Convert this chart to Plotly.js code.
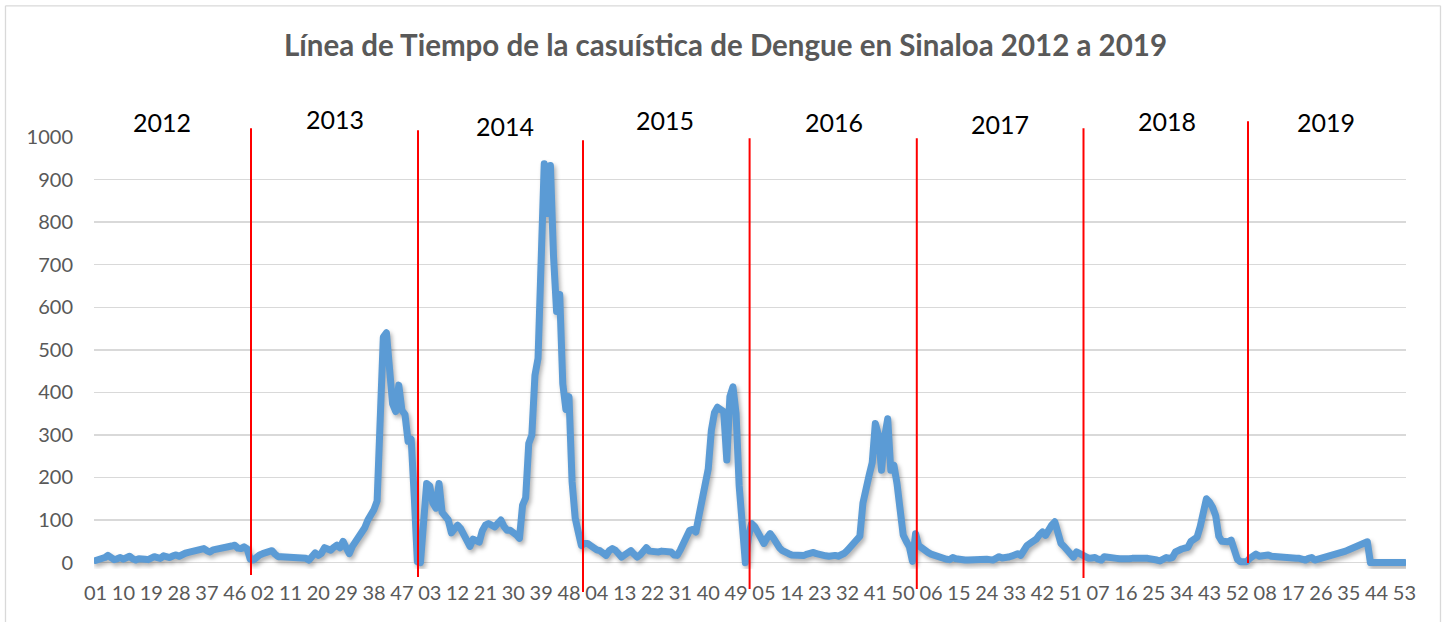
<!DOCTYPE html>
<html><head><meta charset="utf-8">
<script src="https://cdn.plot.ly/plotly-3.0.1.min.js"></script>
<style>html,body{margin:0;padding:0;background:#fff;} #chart{width:1449px;height:622px;}</style>
</head><body><div id="chart"></div>
<script>
// Weekly dengue cases, Sinaloa (53 weeks per year as plotted)
const cases2012=[5,6,8,12,17,10,7,9,12,8,
 10,15,9,6,9,10,8,7,10,14,
 12,10,16,14,12,16,18,15,20,22,
 24,26,28,27,30,33,28,25,30,31,
 33,32,35,36,39,41,34,33,37,32,
 8,6,14];
const cases2013=[18,21,24,27,28,20,14,14,14,13,
 12,11,10,12,14,10,6,18,23,17,
 22,35,32,29,36,41,35,50,35,21,
 38,50,58,68,82,100,112,125,145,380,
 530,540,470,373,355,417,358,348,285,290,
 155,2,0];
const cases2014=[110,186,180,140,128,186,118,108,100,70,
 82,88,80,68,55,38,55,52,48,75,
 88,92,86,84,92,100,85,76,76,72,
 65,57,135,152,280,300,440,480,740,937,
 820,933,720,590,630,420,360,390,190,105,
 72,40,45];
const cases2015=[45,40,33,30,28,20,17,28,33,29,
 20,13,18,25,28,20,13,18,30,35,
 27,25,26,25,27,26,29,25,18,17,
 30,48,65,76,78,72,110,150,175,220,
 310,352,365,362,355,241,390,413,350,180,
 78,0,60];
const cases2016=[92,85,70,55,45,58,68,58,45,35,
 28,22,21,18,17,15,14,17,20,22,
 24,21,18,17,16,15,17,17,15,17,
 22,29,38,45,55,62,140,185,205,235,
 327,300,217,295,338,217,229,186,131,65,
 50,37,3];
const cases2017=[68,40,33,28,24,20,17,15,12,10,
 8,7,12,9,7,6,6,6,7,8,
 9,10,9,8,7,6,10,14,11,10,
 13,15,20,21,17,30,40,45,49,55,
 65,72,64,78,88,96,68,45,38,30,
 22,13,25];
const cases2018=[20,18,12,10,11,12,8,6,14,12,
 10,10,10,9,8,7,9,10,9,9,
 10,10,10,10,8,6,4,10,12,10,
 12,25,30,32,34,36,50,58,60,85,
 125,150,142,130,110,62,50,49,49,53,
 25,8,2];
const cases2019=[1,2,10,18,20,15,17,20,18,15,
 14,12,13,14,12,10,10,10,10,8,
 6,10,12,6,8,10,11,12,13,15,
 17,21,24,27,30,33,35,38,39,44,
 49,0,0,0,0,0,0,0,0,0,
 0,0,0];

const tickLabels=["01","10","19","28","37","46","02","11","20","29","38","47",
 "03","12","21","30","39","48","04","13","22","31","40","49",
 "05","14","23","32","41","50","06","15","24","33","42","51",
 "07","16","25","34","43","52","08","17","26","35","44","53"];
const yearLabels=["2012","2013","2014","2015","2016","2017","2018","2019"];
const yTicks=[0,100,200,300,400,500,600,700,800,900,1000];

const cases=[].concat(cases2012,cases2013,cases2014,cases2015,cases2016,cases2017,cases2018,cases2019);
const weekIndex=cases.map((_,i)=>i);
const tickPositions=tickLabels.map((_,k)=>k*9);

// geometry (pixels)
const W=1449,H=622,L=94,R=1406,T=136.7,B=568.9;
const px=x=>(x-L)/(R-L), py=y=>(B-y)/(B-T);

const dividerX=[251,418,583,749.6,916.8,1083.5,1248];
const dividerTop=[128,130,140,138,138,128,121];
const dividerBottom=[575,577,592,589,589,578,563];
const yearX=[162,335,505,665,834,1000,1167,1326];
const yearY=[122,119,126,120,122,124,121,122];

const FONT="Lato, 'Open Sans', sans-serif";

const shapes=[];
dividerX.forEach((x,k)=>{
  shapes.push({type:'line',xref:'paper',yref:'paper',x0:px(x),x1:px(x),y0:py(dividerBottom[k]),y1:py(dividerTop[k]),
    line:{color:'#FF0000',width:2}});
});
// chart border
shapes.push({type:'line',xref:'paper',yref:'paper',x0:px(5.5),x1:px(5.5),y0:py(5.5),y1:py(640),line:{color:'#D9D9D9',width:1.3}});
shapes.push({type:'line',xref:'paper',yref:'paper',x0:px(5.5),x1:px(1440.5),y0:py(5.5),y1:py(5.5),line:{color:'#D9D9D9',width:1.3}});
shapes.push({type:'line',xref:'paper',yref:'paper',x0:px(1440.5),x1:px(1440.5),y0:py(5.5),y1:py(640),line:{color:'#D9D9D9',width:1.3}});

const annotations=yearLabels.map((t,k)=>({text:t,showarrow:false,xref:'paper',yref:'paper',
  x:px(yearX[k]),y:py(yearY[k]),xanchor:'center',yanchor:'middle',
  font:{family:FONT,size:25,color:'#000000'}}));

const trace={type:'scatter',mode:'lines',x:weekIndex,y:cases,
  line:{color:'#5B9BD5',width:7},hoverinfo:'skip',showlegend:false};

const layout={
  width:W,height:H,autosize:false,
  margin:{l:L,r:W-R,t:T,b:H-B,pad:0},
  paper_bgcolor:'#ffffff',plot_bgcolor:'#ffffff',
  title:{text:'Línea de Tiempo de la casuística de Dengue en Sinaloa 2012 a 2019',
    xref:'container',yref:'container',x:725.5/W,y:1-46/H,xanchor:'center',yanchor:'middle',
    font:{family:FONT,size:29.5,weight:'bold',color:'#595959'}},
  xaxis:{range:[-0.5,423.5],tickmode:'array',tickvals:tickPositions,ticktext:tickLabels,
    tickangle:0,showgrid:false,zeroline:false,showline:false,ticks:'',ticklabelstandoff:10,
    tickfont:{family:FONT,size:20,color:'#595959'},fixedrange:true},
  yaxis:{range:[-15,1000],tickmode:'array',tickvals:yTicks,showgrid:true,gridcolor:'#D9D9D9',gridwidth:1.5,
    zeroline:false,showline:false,ticks:'',ticklabelstandoff:20,
    tickfont:{family:FONT,size:20,color:'#595959'},fixedrange:true},
  shapes:shapes,annotations:annotations,showlegend:false
};

Plotly.newPlot('chart',[trace],layout,{displayModeBar:false,staticPlot:true}).then(()=>{
  document.querySelectorAll('.scatterlayer .trace path.js-line').forEach(p=>{
    p.style.strokeLinejoin='round';
    p.style.strokeLinecap='round';
    p.style.filter='drop-shadow(2px 3px 2px rgba(0,0,0,0.3))';
  });
});
</script>
</body></html>
